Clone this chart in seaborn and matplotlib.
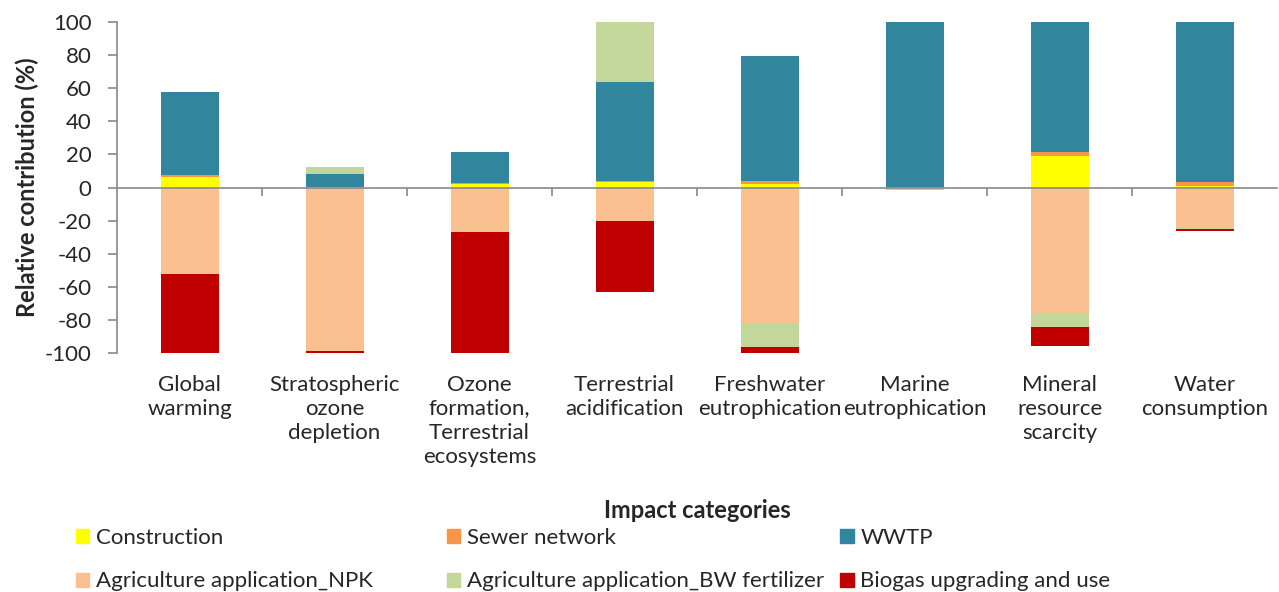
import numpy as np
import pandas as pd
import seaborn as sns
import matplotlib.pyplot as plt
from matplotlib.patches import Patch
import matplotlib.transforms as mtransforms

categories = ['Global\nwarming', 'Stratospheric\nozone\ndepletion',
              'Ozone\nformation,\nTerrestrial\necosystems', 'Terrestrial\nacidification',
              'Freshwater\neutrophication', 'Marine\neutrophication',
              'Mineral\nresource\nscarcity', 'Water\nconsumption']

series = ['Construction', 'Sewer network', 'WWTP', 'Agriculture application_NPK',
          'Agriculture application_BW fertilizer', 'Biogas upgrading and use']

construction = [6.6, 0.3, 2.2, 3.2, 2.4, 0.0, 19.3, 1.2]
sewer = [0.8, 0.2, 0.3, 0.6, 1.5, 0.2, 1.9, 2.4]
wwtp = [50.2, 7.4, 19.0, 59.8, 75.3, 99.8, 78.8, 96.4]
npk = [-52.0, -98.8, -26.4, -20.5, -82.4, -1.5, -76.3, -23.6]
bw_fert = [0.0, 4.6, -0.3, 36.4, -14.1, 0.0, -7.7, -1.6]
biogas = [-48.0, -1.2, -73.3, -42.7, -3.5, 0.0, -11.5, -1.2]

colors = ['#FFFF00', '#F79646', '#31859C', '#FAC090', '#C4D79B', '#C00000']

sns.set_style('white')
plt.rcParams['font.family'] = ['Lato', 'DejaVu Sans']
plt.rcParams['axes.unicode_minus'] = False

df = pd.DataFrame({'cat': categories})
vals = np.array([construction, sewer, wwtp, npk, bw_fert, biogas])
pos = np.clip(vals, 0, None).cumsum(axis=0)
neg = np.clip(vals, None, 0).cumsum(axis=0)

fig = plt.figure(figsize=(12.79, 5.92), dpi=100)
ax = fig.add_axes([0.0915, 0.4037, 0.907, 0.559])

# draw cumulative totals from outermost to innermost so inner layers sit on top
for i in range(len(series) - 1, -1, -1):
    df['p'] = pos[i]
    df['n'] = neg[i]
    sns.barplot(data=df, x='cat', y='p', color=colors[i], width=0.4,
                saturation=1, linewidth=0, ax=ax)
    sns.barplot(data=df, x='cat', y='n', color=colors[i], width=0.4,
                saturation=1, linewidth=0, ax=ax)

ax.set_ylim(-100, 100)
ax.set_xlim(-0.5, len(categories) - 0.5)
ax.set_yticks(np.arange(-100, 101, 20))
ax.tick_params(axis='y', labelsize=16, length=6.5, color='#898989', direction='out',
               left=True, width=1.2, pad=12)
ax.set_ylabel('Relative contribution (%)', fontsize=17, fontweight='bold', labelpad=4)
ax.set_xlabel('')

for s in ['top', 'right']:
    ax.spines[s].set_visible(False)
ax.spines['left'].set_color('#898989')
ax.spines['bottom'].set_color('#898989')
ax.spines['bottom'].set_position(('data', 0))
ax.spines['left'].set_linewidth(1.2)
ax.spines['bottom'].set_linewidth(1.2)

ax.set_xticks(np.arange(0.5, len(categories) - 0.5, 1))
ax.set_xticklabels([])
ax.tick_params(axis='x', length=6, color='#898989', direction='out', bottom=True, width=1.2)

trans = mtransforms.blended_transform_factory(ax.transData, ax.transAxes)
for i, c in enumerate(categories):
    ax.text(i, -0.065, c, transform=trans, ha='center', va='top', fontsize=16,
            linespacing=1.25)

fig.text(0.545, 0.138, 'Impact categories', ha='center', va='center',
         fontsize=17, fontweight='bold')

handles = [Patch(color=c, label=s) for c, s in zip(colors, series)]
col_x = [0.0594, 0.3495, 0.657]
for j, x in enumerate(col_x):
    idx = [j, j + 3]
    fig.legend([handles[k] for k in idx], [series[k] for k in idx],
               ncol=1, loc='upper left', bbox_to_anchor=(x, 0.108),
               frameon=False, fontsize=16, handlelength=0.6, handleheight=0.6,
               handletextpad=0.3, labelspacing=1.05, borderaxespad=0, borderpad=0)

fig.savefig('out.png', dpi=100)
